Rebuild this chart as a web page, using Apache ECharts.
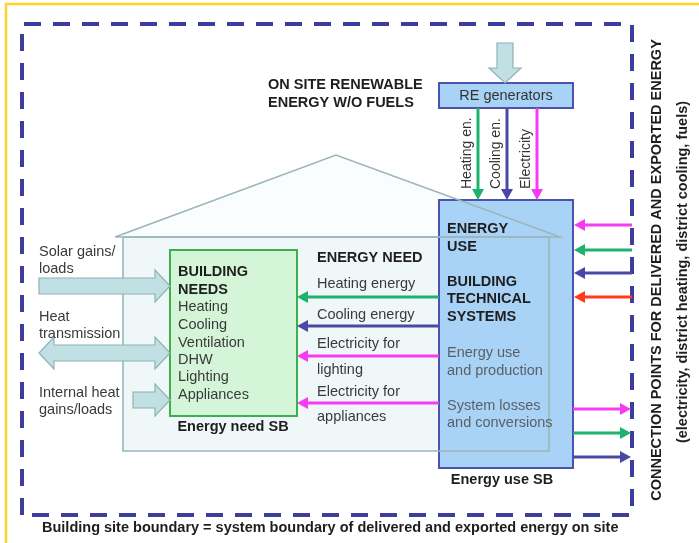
<!DOCTYPE html>
<html>
<head>
<meta charset="utf-8">
<script src="https://cdn.jsdelivr.net/npm/echarts@6/dist/echarts.min.js"></script>
<style>
  html, body { margin: 0; padding: 0; background: #fff; }
  #chart { width: 699px; height: 543px; }
</style>
</head>
<body>
<div id="chart"></div>
<script>
// the diagram sits on a 699 x 543 value grid (x to the right, y downwards)
const yellowFrame = [[6, 543], [6, 4], [699, 4]];
const siteBoundary = [[22, 515], [22, 24], [632, 24], [632, 515], [22, 515]];

const houseRoof = [[115, 237], [336, 155], [560, 237], [115, 237]];
const houseBody = [[123, 237], [549, 237], [549, 451], [123, 451], [123, 237]];

// boxes: [x0, y0, x1, y1]
const useBoxes = [[439, 83, 573, 108], [439, 200, 573, 468]];
const needBoxes = [[170, 250, 297, 416]];

// wide arrows: [x0, y0, x1, y1, both ends]
const wideArrows = [
  [505, 43, 505, 83, 0],
  [39, 286, 170, 286, 0],
  [39, 353, 170, 353, 1],
  [133, 400, 170, 400, 0]
];

// energy flows: [x0, y0, x1, y1, carrier]
const flows = [
  [478, 108, 478, 200, 'heat'],
  [507, 108, 507, 200, 'cool'],
  [537, 108, 537, 200, 'elec'],
  [439, 297, 297, 297, 'heat'],
  [439, 326, 297, 326, 'cool'],
  [439, 356, 297, 356, 'elec'],
  [439, 403, 297, 403, 'elec'],
  [632, 225, 574, 225, 'elec'],
  [632, 250, 574, 250, 'heat'],
  [632, 273, 574, 273, 'cool'],
  [632, 297, 574, 297, 'fuel'],
  [573, 409, 631, 409, 'elec'],
  [573, 433, 631, 433, 'heat'],
  [573, 457, 631, 457, 'cool']
];

const boldLabels = [
  ['ON SITE RENEWABLE', 268, 85],
  ['ENERGY W/O FUELS', 268, 103],
  ['BUILDING', 178, 272],
  ['NEEDS', 178, 290],
  ['ENERGY NEED', 317, 258],
  ['ENERGY', 447, 229],
  ['USE', 447, 247],
  ['BUILDING', 447, 282],
  ['TECHNICAL', 447, 299],
  ['SYSTEMS', 447, 317]
];
const plainLabels = [
  ['Solar gains/', 39, 252], ['loads', 39, 269],
  ['Heat', 39, 317], ['transmission', 39, 334],
  ['Internal heat', 39, 393], ['gains/loads', 39, 410],
  ['Heating', 178, 307], ['Cooling', 178, 325], ['Ventilation', 178, 343],
  ['DHW', 178, 360], ['Lighting', 178, 377], ['Appliances', 178, 395],
  ['Heating energy', 317, 284], ['Cooling energy', 317, 315],
  ['Electricity for', 317, 344], ['lighting', 317, 370],
  ['Electricity for', 317, 392], ['appliances', 317, 417]
];
const systemLabels = [
  ['Energy use', 447, 353], ['and production', 447, 371],
  ['System losses', 447, 406], ['and conversions', 447, 423]
];
const boxCaptions = [['Energy need SB', 233, 427], ['Energy use SB', 502, 480]];
const generatorLabel = ['RE generators', 506, 96];
const carrierLabels = [['Heating en.', 467, 189], ['Cooling en.', 496, 189], ['Electricity', 526, 189]];
const sideLabels = [
  ['CONNECTION POINTS FOR DELIVERED AND EXPORTED ENERGY', 657, 270],
  ['(electricity, district heating, district cooling, fuels)', 683, 272]
];
const footLabel = ['Building site boundary = system boundary of delivered and exported energy on site', 42, 528];

const carrierColor = { heat: '#1db36c', cool: '#4a48a6', elec: '#f53cf2', fuel: '#ff3b1c' };
const FONT = '"Liberation Sans", Arial, sans-serif';

var myChart = echarts.init(document.getElementById('chart'));

function layer(z, items, build) {
  return {
    type: 'custom',
    coordinateSystem: 'cartesian2d',
    z: z,
    silent: true,
    clip: false,
    animation: false,
    data: items.map((_, i) => [i, 0]),
    renderItem: (params, api) => build(items[params.dataIndex], api)
  };
}

function poly(api, pts, style) {
  return { type: 'polyline', shape: { points: pts.map(p => api.coord(p)) }, style: style };
}

function rect(api, b, fill, stroke) {
  const a = api.coord([b[0], b[1]]);
  const c = api.coord([b[2], b[3]]);
  return {
    type: 'rect',
    shape: { x: a[0], y: a[1], width: c[0] - a[0], height: c[1] - a[1] },
    style: { fill: fill, stroke: stroke, lineWidth: 2 }
  };
}

function wideArrow(api, d) {
  const p0 = api.coord([d[0], d[1]]);
  const p1 = api.coord([d[2], d[3]]);
  const len = Math.hypot(p1[0] - p0[0], p1[1] - p0[1]);
  const ux = (p1[0] - p0[0]) / len, uy = (p1[1] - p0[1]) / len;
  const nx = -uy, ny = ux;
  const shaft = 8, head = 16, hl = 15;
  const at = (t, w) => [p0[0] + ux * t + nx * w, p0[1] + uy * t + ny * w];
  let pts;
  if (d[4]) {
    pts = [at(0, 0), at(hl, head), at(hl, shaft), at(len - hl, shaft), at(len - hl, head), at(len, 0),
      at(len - hl, -head), at(len - hl, -shaft), at(hl, -shaft), at(hl, -head)];
  } else {
    pts = [at(0, shaft), at(len - hl, shaft), at(len - hl, head), at(len, 0),
      at(len - hl, -head), at(len - hl, -shaft), at(0, -shaft)];
  }
  return { type: 'polygon', shape: { points: pts }, style: { fill: '#c1e0e4', stroke: '#8db2b6', lineWidth: 1.2 } };
}

function flowArrow(api, d) {
  const p0 = api.coord([d[0], d[1]]);
  const p1 = api.coord([d[2], d[3]]);
  const len = Math.hypot(p1[0] - p0[0], p1[1] - p0[1]);
  const ux = (p1[0] - p0[0]) / len, uy = (p1[1] - p0[1]) / len;
  const hl = 11, hw = 6;
  const bx = p1[0] - ux * hl, by = p1[1] - uy * hl;
  const col = carrierColor[d[4]];
  return {
    type: 'group',
    children: [
      { type: 'line', shape: { x1: p0[0], y1: p0[1], x2: bx, y2: by }, style: { stroke: col, lineWidth: 3 } },
      {
        type: 'polygon',
        shape: { points: [[p1[0], p1[1]], [bx - uy * hw, by + ux * hw], [bx + uy * hw, by - ux * hw]] },
        style: { fill: col }
      }
    ]
  };
}

function label(api, t, font, fill, align, rotate) {
  const p = api.coord([t[1], t[2]]);
  return {
    type: 'text',
    x: p[0],
    y: p[1],
    rotation: rotate ? Math.PI / 2 : 0,
    style: { text: t[0], font: font, fill: fill, align: align, verticalAlign: 'middle' }
  };
}

const BOLD = 'bold 14.5px ' + FONT;
const PLAIN = '14.5px ' + FONT;

const option = {
  animation: false,
  grid: { left: 0, right: 0, top: 0, bottom: 0 },
  xAxis: { type: 'value', min: 0, max: 699, show: false },
  yAxis: { type: 'value', min: 0, max: 543, inverse: true, show: false },
  series: [
    layer(1, [yellowFrame], (d, api) => poly(api, d, { stroke: '#ffd22e', lineWidth: 2.5, fill: null })),
    layer(2, [siteBoundary], (d, api) => poly(api, d, { stroke: '#3d3d9c', lineWidth: 4, lineDash: [17, 12], fill: null })),
    layer(3, [houseRoof, houseBody], (d, api) => ({
      type: 'polygon', shape: { points: d.map(p => api.coord(p)) }, style: { fill: d === houseRoof ? '#fafdfd' : '#f0f7f8' }
    })),
    layer(4, useBoxes, (d, api) => rect(api, d, '#a9d3f6', '#4c52ae')),
    layer(4, needBoxes, (d, api) => rect(api, d, '#d4f5d7', '#3fae4e')),
    layer(5, [houseRoof, houseBody], (d, api) => poly(api, d, { stroke: '#9ab6b9', lineWidth: 1.6, fill: null })),
    layer(6, wideArrows, (d, api) => wideArrow(api, d)),
    layer(7, flows, (d, api) => flowArrow(api, d)),
    layer(8, boldLabels, (d, api) => label(api, d, BOLD, '#1e1e1e', 'left')),
    layer(8, plainLabels, (d, api) => label(api, d, PLAIN, '#3a3a3a', 'left')),
    layer(8, systemLabels, (d, api) => label(api, d, PLAIN, '#5a6068', 'left')),
    layer(8, boxCaptions, (d, api) => label(api, d, BOLD, '#1e1e1e', 'center')),
    layer(8, [generatorLabel], (d, api) => label(api, d, PLAIN, '#333', 'center')),
    layer(8, carrierLabels, (d, api) => label(api, d, '14px ' + FONT, '#333', 'left', true)),
    layer(8, sideLabels, (d, api) => label(api, d, BOLD, '#1e1e1e', 'center', true)),
    layer(8, [footLabel], (d, api) => label(api, d, BOLD, '#1e1e1e', 'left'))
  ]
};

myChart.setOption(option);
</script>
</body>
</html>
